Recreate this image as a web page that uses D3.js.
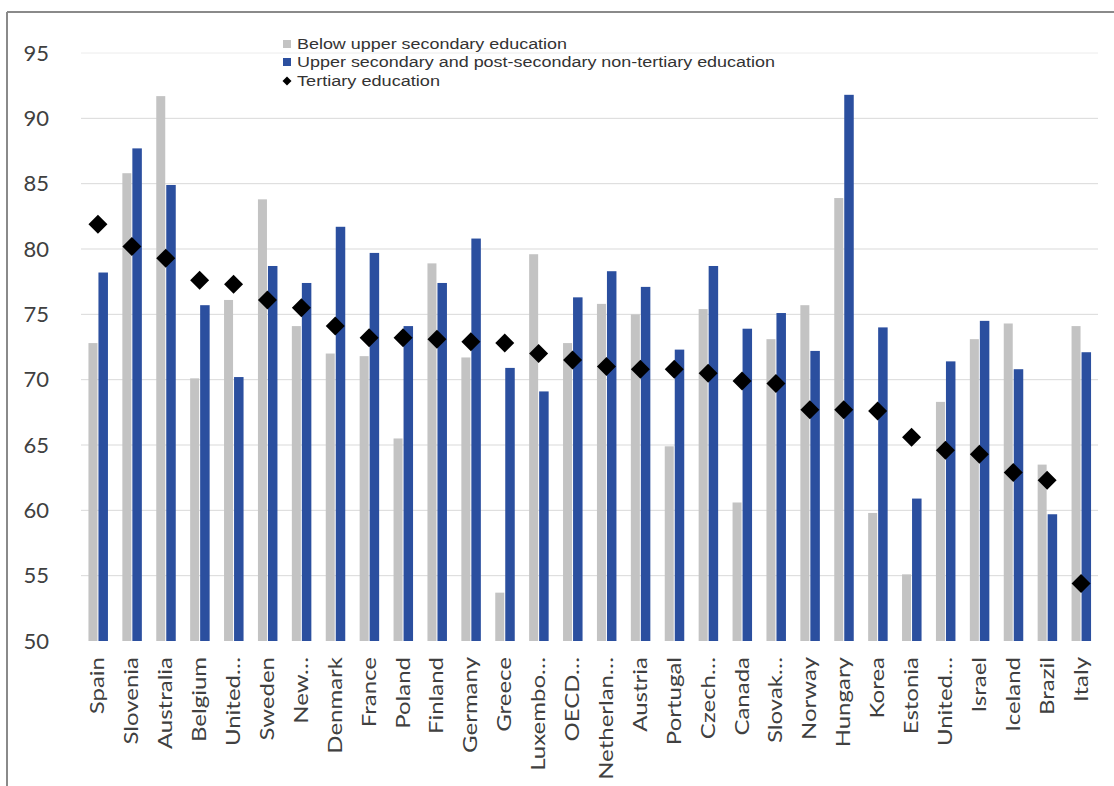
<!DOCTYPE html>
<html>
<head>
<meta charset="utf-8">
<script src="https://cdn.jsdelivr.net/npm/d3@7"></script>
<style>
  html, body { margin: 0; padding: 0; background: #ffffff; }
  svg { display: block; }
</style>
</head>
<body>
<svg id="chart" width="1114" height="786"></svg>
<script>
// Countries, in chart order (long names truncated as in the axis)
const countries = ["Spain","Slovenia","Australia","Belgium","United…","Sweden","New…","Denmark","France","Poland",
  "Finland","Germany","Greece","Luxembo…","OECD…","Netherlan…","Austria","Portugal","Czech…","Canada",
  "Slovak…","Norway","Hungary","Korea","Estonia","United…","Israel","Iceland","Brazil","Italy"];

// Below upper secondary education
const belowUpperSecondary = [72.8,85.8,91.7,70.1,76.1,83.8,74.1,72.0,71.8,65.5,
  78.9,71.7,53.7,79.6,72.8,75.8,75.0,64.9,75.4,60.6,
  73.1,75.7,83.9,59.8,55.1,68.3,73.1,74.3,63.5,74.1];

// Upper secondary and post-secondary non-tertiary education
const upperSecondary = [78.2,87.7,84.9,75.7,70.2,78.7,77.4,81.7,79.7,74.1,
  77.4,80.8,70.9,69.1,76.3,78.3,77.1,72.3,78.7,73.9,
  75.1,72.2,91.8,74.0,60.9,71.4,74.5,70.8,59.7,72.1];

// Tertiary education
const tertiary = [81.9,80.2,79.3,77.6,77.3,76.1,75.5,74.1,73.2,73.2,
  73.1,72.9,72.8,72.0,71.5,71.0,70.8,70.8,70.5,69.9,
  69.7,67.7,67.7,67.6,65.6,64.6,64.3,62.9,62.3,54.4];

const yTicks = [50,55,60,65,70,75,80,85,90,95];

const legendLabels = [
  "Below upper secondary education",
  "Upper secondary and post-secondary non-tertiary education",
  "Tertiary education"
];

const colGray = "#c3c3c3";
const colBlue = "#2b4f9f";
const textCol = "#404040";

const svg = d3.select("#chart");

const plot = { left: 81, right: 1098, top: 53, bottom: 641 };

const x = d3.scaleBand()
  .domain(d3.range(countries.length))
  .range([plot.left, plot.right])
  .paddingInner(0).paddingOuter(0);

const y = d3.scaleLinear().domain([50, 95]).range([plot.bottom, plot.top]);

// frame
svg.append("line").attr("x1", 7).attr("x2", 1114).attr("y1", 12).attr("y2", 12)
  .attr("stroke", "#8a8a8a").attr("stroke-width", 2);
svg.append("line").attr("x1", 7).attr("x2", 7).attr("y1", 12).attr("y2", 786)
  .attr("stroke", "#8a8a8a").attr("stroke-width", 2);

// gridlines
svg.append("g").selectAll("line")
  .data(yTicks.filter(t => t > 50))
  .join("line")
  .attr("x1", plot.left).attr("x2", plot.right)
  .attr("y1", d => y(d)).attr("y2", d => y(d))
  .attr("stroke", d => d === 95 ? "#ececec" : "#d9d9d9").attr("stroke-width", 1);

// y axis labels
const yAxis = d3.axisLeft(y).tickValues(yTicks).tickSize(0).tickPadding(0);
const gy = svg.append("g").attr("transform", "translate(49,0)").call(yAxis);
gy.select(".domain").remove();
gy.selectAll("text")
  .attr("font-family", "Lato, 'Open Sans', sans-serif")
  .attr("font-size", 22).attr("fill", textCol);

const bw = x.bandwidth();
const cx = i => x(i) + bw / 2;

// bars
svg.append("g").selectAll("rect")
  .data(belowUpperSecondary)
  .join("rect")
  .attr("x", (d, i) => cx(i) - 9.5)
  .attr("width", 9)
  .attr("y", d => y(d))
  .attr("height", d => y(50) - y(d))
  .attr("fill", colGray);

svg.append("g").selectAll("rect")
  .data(upperSecondary)
  .join("rect")
  .attr("x", (d, i) => cx(i) + 0.5)
  .attr("width", 9.5)
  .attr("y", d => y(d))
  .attr("height", d => y(50) - y(d))
  .attr("fill", colBlue);

// diamonds
const diamond = (px, py, r) => `M${px},${py - r}L${px + r},${py}L${px},${py + r}L${px - r},${py}Z`;
svg.append("g").selectAll("path")
  .data(tertiary)
  .join("path")
  .attr("d", (d, i) => diamond(cx(i), y(d), 9.5))
  .attr("fill", "#000");

// x axis labels
svg.append("g").selectAll("text")
  .data(countries)
  .join("text")
  .attr("transform", (d, i) => `translate(${cx(i) + 6.5},${plot.bottom + 16}) rotate(-90) scale(1.2,1)`)
  .attr("text-anchor", "end")
  .attr("font-family", "Lato, 'Open Sans', sans-serif")
  .attr("font-size", 20)
  .attr("fill", textCol)
  .text(d => d);

// legend
const lg = svg.append("g").attr("font-family", "'Liberation Sans', Arial, sans-serif").attr("font-size", 14).attr("fill", "#333");
const lgWidths = [270, 478, 143];
const lgRows = [44, 62, 81];
lg.append("rect").attr("x", 283).attr("y", lgRows[0] - 4).attr("width", 8).attr("height", 8).attr("fill", colGray);
lg.append("rect").attr("x", 283).attr("y", lgRows[1] - 4).attr("width", 8).attr("height", 8).attr("fill", colBlue);
lg.append("path").attr("d", diamond(287, lgRows[2], 4.5)).attr("fill", "#000");
lg.selectAll("text")
  .data(legendLabels)
  .join("text")
  .attr("x", 297)
  .attr("y", (d, i) => lgRows[i])
  .attr("dy", "0.35em")
  .attr("textLength", (d, i) => lgWidths[i])
  .attr("lengthAdjust", "spacingAndGlyphs")
  .text(d => d);
</script>
</body>
</html>
